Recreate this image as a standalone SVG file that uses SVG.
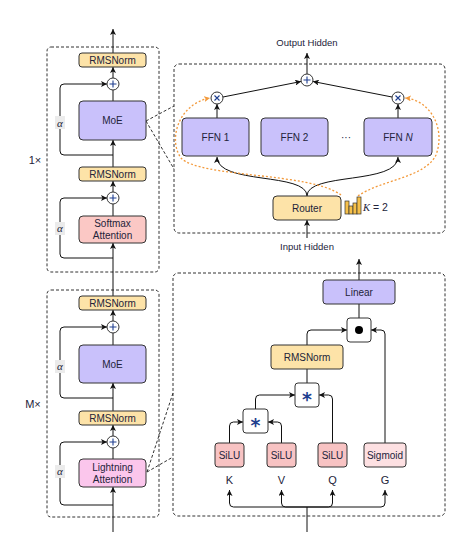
<svg xmlns="http://www.w3.org/2000/svg" width="463" height="549" viewBox="0 0 463 549">
<defs>
<marker id="ar" markerUnits="userSpaceOnUse" markerWidth="7" markerHeight="6" refX="6" refY="3" orient="auto">
<path d="M0,0 L6,3 L0,6 L1.5,3 z" fill="#111"/>
</marker>
<marker id="aro" markerUnits="userSpaceOnUse" markerWidth="7" markerHeight="6" refX="6" refY="3" orient="auto">
<path d="M0,0 L6,3 L0,6 L1.5,3 z" fill="#f39a3c"/>
</marker>
<style>
text{font-family:"Liberation Sans",Arial,sans-serif;fill:#23233a;}
.c{stroke:#111;stroke-width:1;fill:none;}
.a{marker-end:url(#ar);}
.o{stroke:#f39a3c;stroke-width:1.3;fill:none;stroke-dasharray:2,2;marker-end:url(#aro);}
.d{stroke:#333;stroke-width:1;fill:none;stroke-dasharray:3,2;}
.box{stroke:#333;stroke-width:1;}
.norm{fill:#fde3a8;}
.moe{fill:#c9c1fb;}
.soft{fill:#fbc8c5;}
.light{fill:#fbc6ec;}
.silu{fill:#f8c3c3;}
.sig{fill:#fde0e2;}
.wb{fill:#fff;}
.t10{font-size:10px;text-anchor:middle;}
.t9{font-size:9.5px;text-anchor:middle;}
.al{font-family:"Liberation Serif",serif;font-style:italic;font-size:11px;text-anchor:middle;}
.op{stroke:#1f3f8f;stroke-width:1.1;fill:none;}
.star{font-family:"DejaVu Sans",sans-serif;font-size:19px;text-anchor:middle;fill:#1f3f8f;font-weight:bold;}
</style>
</defs>

<!-- containers -->
<g id="block1">
<rect x="47" y="47" width="112" height="225" rx="4" fill="#ebebeb" class="d"/>
<text x="35" y="164" font-size="11" text-anchor="middle">1×</text>
</g>
<g id="block2">
<rect x="47" y="290" width="112" height="227" rx="4" fill="#ebebeb" class="d"/>
<text x="33" y="408" font-size="11" text-anchor="middle">M×</text>
</g>
<g id="moe-detail">
<rect x="174" y="64" width="271" height="169" rx="5" fill="#f4f2fd" class="d"/>
</g>
<g id="lightning-detail">
<rect x="173" y="273" width="272" height="243" rx="5" fill="#fdf1fb" class="d"/>
</g>

<!-- connectors -->
<g id="connectors">
<line x1="113" y1="53" x2="113" y2="29" class="c a"/>
<line x1="113" y1="78" x2="113" y2="67" class="c a"/>
<line x1="113" y1="101" x2="113" y2="90" class="c"/>
<line x1="113" y1="167" x2="113" y2="140" class="c a"/>
<path d="M113,155 H64 Q60,155 60,151 V88 Q60,84 64,84 H107" class="c a"/>
<line x1="113" y1="192" x2="113" y2="181" class="c a"/>
<line x1="113" y1="216" x2="113" y2="204" class="c"/>
<path d="M113,258 H64 Q60,258 60,254 V202 Q60,198 64,198 H107" class="c a"/>
<line x1="113" y1="296" x2="113" y2="243" class="c a"/>
<line x1="113" y1="321" x2="113" y2="310" class="c a"/>
<line x1="113" y1="345" x2="113" y2="333" class="c"/>
<line x1="113" y1="411" x2="113" y2="383" class="c a"/>
<path d="M113,398 H64 Q60,398 60,394 V331 Q60,327 64,327 H107" class="c a"/>
<line x1="113" y1="436" x2="113" y2="425" class="c a"/>
<line x1="113" y1="459" x2="113" y2="448" class="c"/>
<path d="M113,505 H64 Q60,505 60,501 V446 Q60,442 64,442 H107" class="c a"/>
<line x1="113" y1="532" x2="113" y2="487" class="c a"/>
<line x1="146" y1="121" x2="174" y2="106" class="d"/>
<line x1="146" y1="121" x2="174" y2="169" class="d"/>
<line x1="147" y1="472" x2="173" y2="393" class="d"/>
<line x1="147" y1="472" x2="173" y2="457" class="d"/>
<line x1="307" y1="74" x2="307" y2="53" class="c a"/>
<line x1="223" y1="97" x2="301" y2="81.5" class="c a"/>
<line x1="392" y1="97" x2="313" y2="81.5" class="c a"/>
<line x1="217" y1="118" x2="217" y2="104" class="c a"/>
<line x1="398" y1="118" x2="398" y2="104" class="c a"/>
<path d="M307,196 C307,172 217,185 217,157" class="c a"/>
<path d="M307,196 C307,172 398,185 398,157" class="c a"/>
<line x1="307" y1="238" x2="307" y2="220" class="c a"/>
<path d="M341,195 C310,172 200,178 181,158 C168,140 178,104 210,98" class="o"/>
<path d="M358,196 C380,180 425,178 436,155 C446,128 430,100 405,98" class="o"/>
<line x1="359" y1="280" x2="359" y2="259" class="c a"/>
<line x1="359" y1="318" x2="359" y2="304" class="c"/>
<path d="M307,345 V334 Q307,330 311,330 H347" class="c a"/>
<path d="M385,443 V334 Q385,330 381,330 H371" class="c a"/>
<line x1="307" y1="383" x2="307" y2="369" class="c"/>
<path d="M255.5,409 V399 Q255.5,395 259.5,395 H295" class="c a"/>
<path d="M332.5,443 V399 Q332.5,395 328.5,395 H319" class="c a"/>
<path d="M229.5,443 V426 Q229.5,422 233.5,422 H243" class="c a"/>
<path d="M281.5,443 V426 Q281.5,422 277.5,422 H268" class="c a"/>
<line x1="307" y1="532" x2="307" y2="507" class="c"/>
<path d="M307,507 H233.5 Q229.5,507 229.5,503 V490" class="c a"/>
<path d="M307,507 H285.5 Q281.5,507 281.5,503 V490" class="c a"/>
<path d="M307,507 H328.5 Q332.5,507 332.5,503 V490" class="c a"/>
<path d="M307,507 H381 Q385,507 385,503 V490" class="c a"/>
</g>

<g id="alphas">
<rect x="55" y="116" width="10" height="13" fill="#ebebeb"/>
<text x="60" y="127" class="al">α</text>
<rect x="55" y="222" width="10" height="13" fill="#ebebeb"/>
<text x="60" y="232" class="al">α</text>
<rect x="55" y="360" width="10" height="13" fill="#ebebeb"/>
<text x="60" y="370" class="al">α</text>
<rect x="55" y="465" width="10" height="13" fill="#ebebeb"/>
<text x="60" y="475" class="al">α</text>
</g>

<g id="rms1"><rect x="79" y="53" width="67" height="14" rx="3" class="box norm"/><text x="112.5" y="63.5" class="t10">RMSNorm</text></g>
<g id="plus1"><circle cx="113" cy="84" r="6" class="box wb"/><path d="M109.5,84 H116.5 M113,80.5 V87.5" class="op"/></g>
<g id="moe1"><rect x="79" y="101" width="67" height="39" rx="4" class="box moe"/><text x="112.5" y="124" class="t10">MoE</text></g>
<g id="rms2"><rect x="79" y="167" width="67" height="14" rx="3" class="box norm"/><text x="112.5" y="177.5" class="t10">RMSNorm</text></g>
<g id="plus2"><circle cx="113" cy="198" r="6" class="box wb"/><path d="M109.5,198 H116.5 M113,194.5 V201.5" class="op"/></g>
<g id="softmax"><rect x="79" y="216" width="67" height="27" rx="4" class="box soft"/><text x="112.5" y="227" class="t10">Softmax</text><text x="112.5" y="239" class="t10">Attention</text></g>

<g id="rms3"><rect x="79" y="296" width="67" height="14" rx="3" class="box norm"/><text x="112.5" y="306.5" class="t10">RMSNorm</text></g>
<g id="plus3"><circle cx="113" cy="327" r="6" class="box wb"/><path d="M109.5,327 H116.5 M113,323.5 V330.5" class="op"/></g>
<g id="moe2"><rect x="79" y="345" width="67" height="38" rx="4" class="box moe"/><text x="112.5" y="367.5" class="t10">MoE</text></g>
<g id="rms4"><rect x="79" y="411" width="67" height="14" rx="3" class="box norm"/><text x="112.5" y="421.5" class="t10">RMSNorm</text></g>
<g id="plus4"><circle cx="113" cy="442" r="6" class="box wb"/><path d="M109.5,442 H116.5 M113,438.5 V445.5" class="op"/></g>
<g id="lightning"><rect x="79" y="459" width="67" height="28" rx="4" class="box light"/><text x="112.5" y="471" class="t10">Lightning</text><text x="112.5" y="483" class="t10">Attention</text></g>

<g id="out-label"><text x="307" y="46" class="t9">Output Hidden</text></g>
<g id="in-label"><text x="307" y="250" class="t9">Input Hidden</text></g>
<g id="plus-top"><circle cx="307" cy="80" r="6" class="box wb"/><path d="M303.5,80 H310.5 M307,76.5 V83.5" class="op"/></g>
<g id="mul1"><circle cx="217" cy="98" r="6" class="box wb"/><path d="M214.5,95.5 L219.5,100.5 M219.5,95.5 L214.5,100.5" class="op"/></g>
<g id="mulN"><circle cx="398" cy="98" r="6" class="box wb"/><path d="M395.5,95.5 L400.5,100.5 M400.5,95.5 L395.5,100.5" class="op"/></g>
<g id="ffn1"><rect x="182" y="118" width="67" height="38" rx="4" class="box moe"/><text x="215.5" y="141" class="t10">FFN 1</text></g>
<g id="ffn2"><rect x="261" y="118" width="67" height="38" rx="4" class="box moe"/><text x="294.5" y="141" class="t10">FFN 2</text></g>
<g id="dots"><text x="346" y="141" class="t10">···</text></g>
<g id="ffnN"><rect x="364" y="118" width="68" height="38" rx="4" class="box moe"/><text x="398" y="141" class="t10">FFN <tspan font-style="italic">N</tspan></text></g>
<g id="router"><rect x="273" y="196" width="68" height="24" rx="4" class="box norm"/><text x="307" y="211.5" class="t10">Router</text></g>
<g id="topk">
<rect x="345" y="201" width="4" height="13" fill="#f6c04a" stroke="#333" stroke-width="0.7"/>
<rect x="349" y="206" width="4" height="8" fill="#f6c04a" stroke="#333" stroke-width="0.7"/>
<rect x="353" y="203" width="4" height="11" fill="#f6c04a" stroke="#333" stroke-width="0.7"/>
<rect x="357" y="197" width="4" height="17" fill="#f6c04a" stroke="#333" stroke-width="0.7"/>
<text x="363" y="211" font-size="10.5"><tspan font-family="Liberation Serif, serif" font-style="italic">K</tspan> = 2</text>
</g>

<g id="linear"><rect x="323" y="280" width="72" height="24" rx="3" class="box moe"/><text x="359" y="295.5" class="t10">Linear</text></g>
<g id="dotprod"><rect x="347" y="318" width="24" height="24" rx="3" class="box wb"/><circle cx="359" cy="330" r="4" fill="#000"/></g>
<g id="rms-l"><rect x="271" y="345" width="72" height="24" rx="3" class="box norm"/><text x="307" y="360.5" class="t10">RMSNorm</text></g>
<g id="star2"><rect x="295" y="383" width="24" height="24" rx="3" class="box wb"/><text x="307" y="406" class="star">*</text></g>
<g id="star1"><rect x="243" y="409" width="25" height="24" rx="3" class="box wb"/><text x="255.5" y="432" class="star">*</text></g>
<g id="silu1"><rect x="215" y="443" width="29" height="24" rx="3" class="box silu"/><text x="229.5" y="458.5" class="t10">SiLU</text></g>
<g id="silu2"><rect x="267" y="443" width="29" height="24" rx="3" class="box silu"/><text x="281.5" y="458.5" class="t10">SiLU</text></g>
<g id="silu3"><rect x="318" y="443" width="29" height="24" rx="3" class="box silu"/><text x="332.5" y="458.5" class="t10">SiLU</text></g>
<g id="sigmoid"><rect x="364" y="443" width="42" height="24" rx="3" class="box sig"/><text x="385" y="458.5" class="t10">Sigmoid</text></g>
<g id="labels">
<text x="229.5" y="484" font-size="11" text-anchor="middle">K</text>
<text x="281.5" y="484" font-size="11" text-anchor="middle">V</text>
<text x="332.5" y="484" font-size="11" text-anchor="middle">Q</text>
<text x="385" y="484" font-size="11" text-anchor="middle">G</text>
</g>
</svg>
